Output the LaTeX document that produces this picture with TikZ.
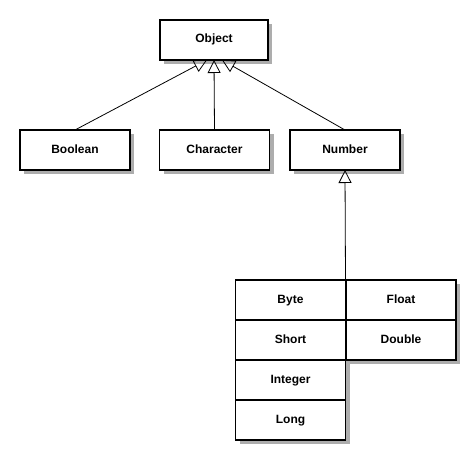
\documentclass[tikz,border=0pt]{standalone}
\usepackage{fontspec}
\setmainfont{Liberation Sans}
\usetikzlibrary{arrows.meta,shadows}

\tikzset{
    cls/.style={draw, line width=1.6pt, fill=white, inner sep=0pt, outer sep=0pt,
        minimum width=110pt, minimum height=40pt, text height=8.5pt, text depth=2.5pt,
        font=\fontsize{12}{14}\selectfont\bfseries,
        drop shadow={shadow xshift=4pt, shadow yshift=-4pt, fill=black!32, opacity=1}},
    isa/.style={line width=0.8pt, -{Triangle[open, width=13pt, length=13pt, line width=0.8pt]}},
}

\begin{document}
\begin{tikzpicture}[x=1pt, y=-1pt]
                \useasboundingbox (0,0) rectangle (476,460);

                % top of the tree
                \node[cls, minimum width=108pt] (object) at (214,40) {Object};
                \node[cls] (boolean) at (75,150) {Boolean};
                \node[cls] (character) at (214.5,150) {Character};
                \node[cls] (number) at (345,150) {Number};

                % numeric wrappers
                \node[cls] (byte) at (290.5,300) {Byte};
                \node[cls] (float) at (401,300) {Float};
                \node[cls] (short) at (290.5,340) {Short};
                \node[cls] (double) at (401,340) {Double};
                \node[cls] (integer) at (290.5,380) {Integer};
                \node[cls] (long) at (290.5,420) {Long};

                \coordinate (objL) at ([xshift=-7pt]object.south);
                \coordinate (objR) at ([xshift=8pt]object.south);
                \coordinate (nums) at (byte.north east);

                \draw[isa] (boolean.north) -- (objL);
                \draw[isa] (character.north) -- (object.south);
                \draw[isa] (number.north) -- (objR);
                \draw[isa] (nums) -- (number.south);
            \end{tikzpicture}
\end{document}
